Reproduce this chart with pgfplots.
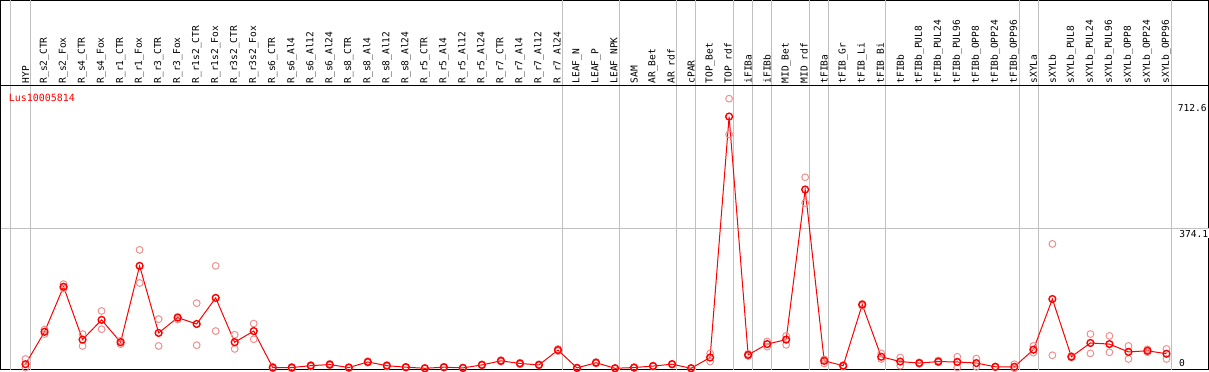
\documentclass[border=0pt]{standalone}
\usepackage{fontspec}
\setmainfont{DejaVu Sans Mono}
\usepackage{pgfplots}
\pgfplotsset{compat=1.18}
\definecolor{gridgray}{RGB}{192,192,192}
\definecolor{reppink}{RGB}{238,144,144}
\definecolor{meanred}{RGB}{255,0,0}
\begin{document}
\begin{tikzpicture}
\begin{axis}[
  scale only axis,
  width=1207bp, height=369bp,
  xmin=-1.3158, xmax=62.21,
  ymin=-4.03, ymax=987.6,
  axis line style={black, line width=1bp},
  xtick={0,...,60},
  xticklabels={HYP,R\_s2\_CTR,R\_s2\_Fox,R\_s4\_CTR,R\_s4\_Fox,R\_r1\_CTR,R\_r1\_Fox,R\_r3\_CTR,R\_r3\_Fox,R\_r1s2\_CTR,R\_r1s2\_Fox,R\_r3s2\_CTR,R\_r3s2\_Fox,R\_s6\_CTR,R\_s6\_Al4,R\_s6\_Al12,R\_s6\_Al24,R\_s8\_CTR,R\_s8\_Al4,R\_s8\_Al12,R\_s8\_Al24,R\_r5\_CTR,R\_r5\_Al4,R\_r5\_Al12,R\_r5\_Al24,R\_r7\_CTR,R\_r7\_Al4,R\_r7\_Al12,R\_r7\_Al24,LEAF\_N,LEAF\_P,LEAF\_NPK,SAM,AR\_Bet,AR\_rdf,cPAR,TOP\_Bet,TOP\_rdf,iFIBa,iFIBb,MID\_Bet,MID\_rdf,tFIBa,tFIB\_Gr,tFIB\_Li,tFIB\_Bi,tFIBb,tFIBb\_PUL8,tFIBb\_PUL24,tFIBb\_PUL96,tFIBb\_OPP8,tFIBb\_OPP24,tFIBb\_OPP96,sXYLa,sXYLb,sXYLb\_PUL8,sXYLb\_PUL24,sXYLb\_PUL96,sXYLb\_OPP8,sXYLb\_OPP24,sXYLb\_OPP96},
  xticklabel pos=upper,
  xticklabel shift=-83bp,
  xticklabel style={rotate=90, anchor=west, inner sep=0pt, font=\fontsize{9.6}{10}\selectfont},
  major tick length=0pt,
  ytick=\empty,
  extra x ticks={-0.79,0.25,28.25,31.25,34.25,35.25,37.25,38.25,39.25,41.25,42.25,45.25,52.25,53.25,60.25},
  extra x tick labels={},
  extra x tick style={grid=major, major grid style={gridgray, line width=1bp}, major tick length=0pt, xticklabel style={inner sep=0pt}},
  clip=false,
]
\draw[gridgray, line width=1bp] (axis cs:-1.3158,374.1) -- (axis cs:62.21,374.1);
\draw[black, line width=1bp] (rel axis cs:0,0.7696) -- (rel axis cs:1,0.7696);

% replicates
\addplot[only marks, mark=o, mark size=3.4bp, color=reppink, mark options={line width=1bp}] coordinates {
(0,25)(0,2)
(1,92)(1,104)
(2,226)(2,217)(2,214)
(3,92)(3,60)
(4,154)(4,105)
(5,65)(5,74)
(6,318)(6,229)
(7,132)(7,60)
(8,131)(8,138)
(9,175)(9,62)
(10,275)(10,100)
(11,90)(11,52)
(12,120)(12,78)
(13,0)(13,4)
(14,0)(14,4)
(15,5)(15,9)
(16,8)(16,12)
(17,1)(17,3)
(18,15)(18,19)
(19,5)(19,9)
(20,2)(20,4)
(21,0)(21,1)
(22,2)(22,4)
(23,0)(23,2)
(24,8)(24,11)
(25,18)(25,22)
(26,11)(26,15)
(27,8)(27,11)
(28,46)(28,52)
(29,0)(29,2)
(30,13)(30,17)
(31,0)(31,1)
(32,1)(32,3)
(33,5)(33,7)
(34,10)(34,12)
(35,0)(35,1)
(36,40)(36,18)
(37,724)(37,628)
(38,33)(38,39)
(39,72)(39,58)
(40,87)(40,63)
(41,513)(41,444)
(42,24)(42,13)
(43,5)(43,8)
(44,168)(44,173)
(45,40)(45,25)
(46,29)(46,7)
(47,12)(47,16)
(48,16)(48,21)
(49,31)(49,2)
(50,26)(50,4)
(51,3)(51,5)
(52,11)(52,0)
(53,60)(53,42)
(54,334)(54,35)
(55,29)(55,33)
(56,92)(56,40)
(57,87)(57,43)
(58,60)(58,25)
(59,51)(59,43)
(60,52)(60,25)
};

% means
\addplot[meanred, line width=1bp, mark=o, mark size=3.4bp, mark options={line width=1.4bp}] coordinates {
(0,11)(1,98)(2,219)(3,77)(4,130)(5,70)(6,275)(7,95)(8,136)(9,119)
(10,189)(11,70)(12,100)(13,2)(14,2)(15,7)(16,10)(17,2)(18,17)(19,7)
(20,3)(21,0)(22,3)(23,1)(24,9)(25,20)(26,13)(27,9)(28,49)(29,1)
(30,15)(31,0)(32,2)(33,6)(34,11)(35,0)(36,29)(37,676)(38,36)(39,65)
(40,77)(41,480)(42,20)(43,7)(44,171)(45,31)(46,18)(47,14)(48,18)(49,17)
(50,14)(51,4)(52,4)(53,50)(54,186)(55,31)(56,68)(57,65)(58,44)(59,47)
(60,39)
};

\node[anchor=west, inner sep=0pt, text=meanred, font=\fontsize{10}{12}\selectfont] at (axis cs:-0.89,727) {Lus10005814};
\node[anchor=north west, inner sep=0.8bp, font=\fontsize{9.6}{10}\selectfont] at (axis cs:60.55,712.6) {712.6};
\node[anchor=north west, inner sep=0.8bp, fill=white, font=\fontsize{9.6}{10}\selectfont] at (axis cs:60.62,374.1) {374.1};
\node[anchor=south west, inner sep=0pt, font=\fontsize{9.6}{10}\selectfont] at (axis cs:60.65,4) {0};
\end{axis}
\end{tikzpicture}
\end{document}
